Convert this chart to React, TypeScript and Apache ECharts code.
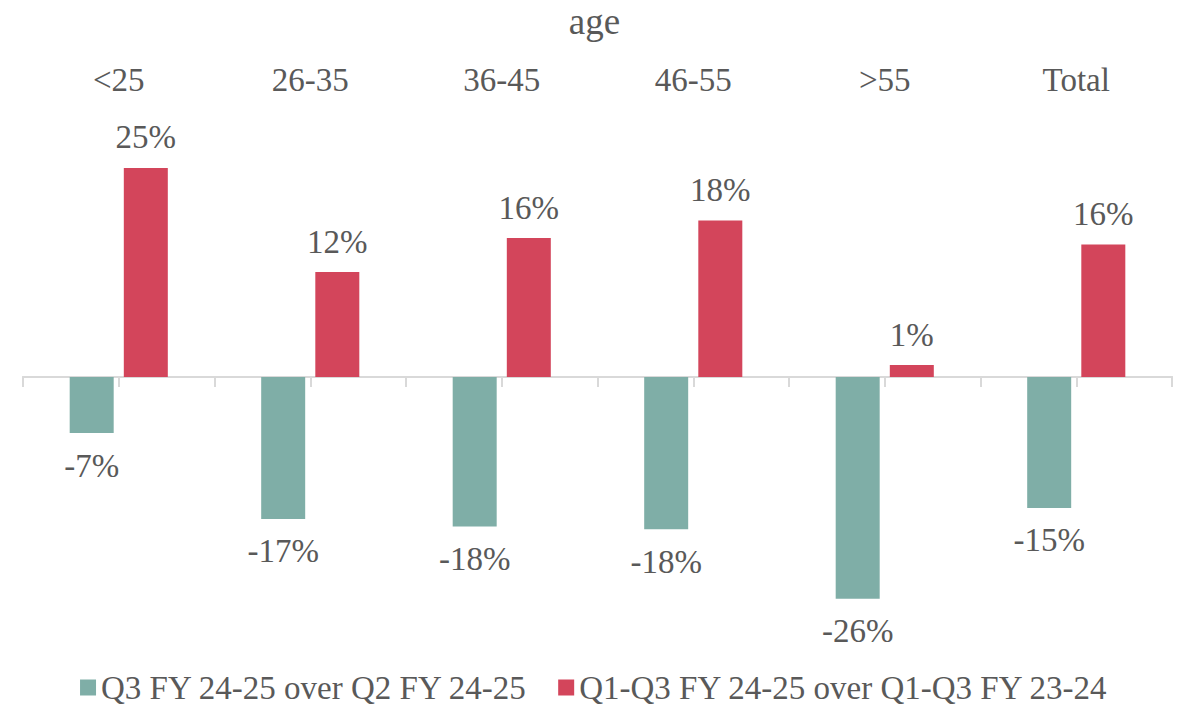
import React, { useEffect, useRef } from "react";
import * as echarts from "echarts";

const categories = ["<25", "26-35", "36-45", "46-55", ">55", "Total"];
const seriesNames = ["Q3 FY 24-25 over Q2 FY 24-25", "Q1-Q3 FY 24-25 over Q1-Q3 FY 23-24"];
const qoqValues = [-6.6, -16.7, -17.6, -17.9, -26.1, -15.4];
const yoyValues = [24.6, 12.35, 16.35, 18.4, 1.4, 15.6];
const colors = ["#7faea7", "#d3455b"];

const FONT = "'Liberation Serif', serif";
const TEXT = "#595959";
const AXIS = "#d9d9d9";
const FS = 33;

export default function App() {
  const ref = useRef<HTMLDivElement>(null);
  useEffect(() => {
    document.body.style.margin = "0";
    const chart = echarts.init(ref.current!, null, { renderer: "svg" });
    const label = (pos: string, dist: number) => ({
      show: true,
      position: pos,
      distance: dist,
      color: TEXT,
      fontFamily: FONT,
      fontSize: FS,
      formatter: (p: any) => Math.round(p.value) + "%",
    });
    chart.setOption({
      animation: false,
      textStyle: { fontFamily: FONT },
      title: {
        text: "age",
        left: "center",
        top: -2,
        textStyle: { fontFamily: FONT, fontSize: 37, fontWeight: "normal", color: TEXT },
      },
      legend: {
        top: 666,
        left: "center",
        icon: "rect",
        itemWidth: 16,
        itemHeight: 16,
        itemGap: 30,
        textStyle: { fontFamily: FONT, fontSize: FS, color: TEXT },
        data: seriesNames,
      },
      grid: [
        { left: 23, right: 17, top: 122, height: 510 },
        { left: 23, right: 17, top: 100, height: 10 },
      ],
      xAxis: [
        {
          type: "category",
          gridIndex: 0,
          data: categories,
          position: "bottom",
          axisLine: { show: true, onZero: true, lineStyle: { color: AXIS, width: 2 } },
          axisTick: { show: true, length: 10, lineStyle: { color: AXIS, width: 2 } },
          axisLabel: { show: false },
        },
        {
          type: "category",
          gridIndex: 0,
          data: categories,
          position: "top",
          axisLine: { show: true, onZero: true, onZeroAxisIndex: 2, lineStyle: { color: AXIS, width: 2 } },
          axisTick: { show: true, inside: true, alignWithLabel: true, length: 10, lineStyle: { color: AXIS, width: 2 } },
          axisLabel: { show: false },
        },
        {
          type: "category",
          gridIndex: 1,
          data: categories,
          position: "top",
          axisLine: { show: false },
          axisTick: { show: false },
          axisLabel: { show: true, color: TEXT, fontFamily: FONT, fontSize: FS, margin: 4 },
        },
      ],
      yAxis: [
        { type: "value", gridIndex: 0, min: -30, max: 30, show: false },
        { type: "value", gridIndex: 1, show: false },
        { type: "value", gridIndex: 0, min: -30, max: 30, show: false },
      ],
      series: [
        {
          name: seriesNames[0],
          type: "bar",
          xAxisIndex: 0,
          yAxisIndex: 0,
          data: qoqValues,
          barWidth: 44,
          barGap: "23%",
          itemStyle: { color: colors[0] },
          label: label("bottom", 16),
        },
        {
          name: seriesNames[1],
          type: "bar",
          xAxisIndex: 0,
          yAxisIndex: 0,
          data: yoyValues,
          barWidth: 44,
          barGap: "23%",
          itemStyle: { color: colors[1] },
          label: label("top", 14),
        },
      ],
    });
    return () => chart.dispose();
  }, []);
  return <div ref={ref} style={{ width: 1189, height: 705 }} />;
}
